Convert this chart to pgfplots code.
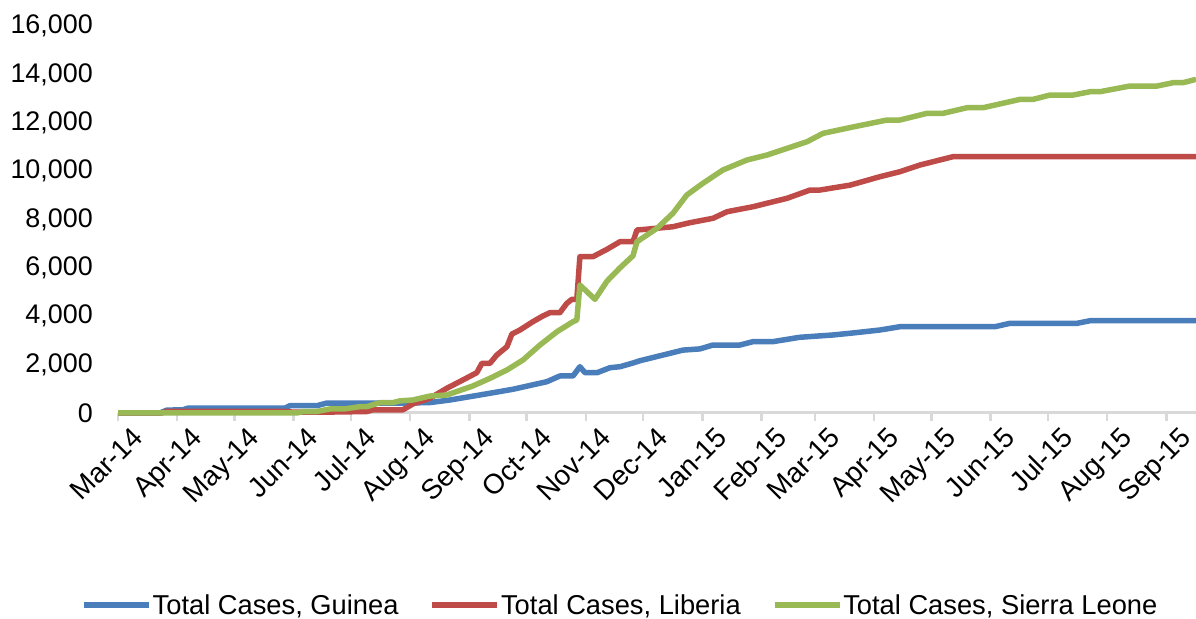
\documentclass[border=0pt]{standalone}
\usepackage{fontspec}
\setmainfont{Liberation Sans}
\usepackage{pgfplots}
\pgfplotsset{compat=1.18}
\definecolor{gblue}{HTML}{4A7EBB}
\definecolor{lred}{HTML}{BE4B48}
\definecolor{sgreen}{HTML}{98B954}
\definecolor{axgray}{HTML}{D9D9D9}
\begin{document}
\begin{tikzpicture}[x=1bp,y=1bp]
\useasboundingbox (0,0) rectangle (1196,619);
\begin{axis}[
  at={(118bp,206bp)}, anchor=south west,
  scale only axis, width=1078bp, height=387bp,
  xmin=0, xmax=564.6, ymin=0, ymax=16000,
  clip=false,
  axis x line*=bottom, axis y line*=left,
  y axis line style={draw=none},
  x axis line style={draw=axgray, line width=3bp},
  xtick={0,31,61,92,122,153,184,214,245,275,306,337,365,396,426,457,487,518,549},
  xticklabels={Mar-14,Apr-14,May-14,Jun-14,Jul-14,Aug-14,Sep-14,Oct-14,Nov-14,Dec-14,Jan-15,Feb-15,Mar-15,Apr-15,May-15,Jun-15,Jul-15,Aug-15,Sep-15},
  ytick={0,2000,4000,6000,8000,10000,12000,14000,16000},
  scaled y ticks=false,
  tick align=outside,
  major tick length=8bp,
  xtick style={draw=axgray, line width=2.5bp},
  ytick style={draw=none},
  /pgf/number format/assume math mode=true,
  yticklabel style={/pgf/number format/1000 sep={,}, font=\fontsize{27}{30}\selectfont, inner sep=0pt, anchor=east, xshift=-17bp},
  xticklabel style={rotate=45, anchor=north east, font=\fontsize{28}{30}\selectfont, inner sep=0pt, xshift=6bp, yshift=-12bp},
  legend style={at={(0.4655,-0.496)}, anchor=center, draw=none, fill=none, legend columns=3,
    font=\fontsize{27.4}{30}\selectfont, inner sep=0pt,
    nodes={inner sep=1bp},
    /tikz/every even column/.append style={column sep=30bp}},
  legend image code/.code={\draw[#1] (0bp,0bp) -- (65bp,0bp);},
  every axis plot/.append style={line width=5.5bp, line join=round},
]
\addplot[gblue] coordinates {
(0,0) (21.9,0) (25.6,120) (33.9,130) (36.6,200) (87.4,200) (90.0,300) (104.1,300) (109.3,410)
(147.6,410) (163.3,430) (173.8,537) (189.5,744) (206.8,980) (224.6,1294) (231.4,1530) (238.3,1530)
(241.9,1914) (244.6,1666) (250.9,1666) (257.7,1873) (262.9,1914) (269.7,2067) (273.4,2162)
(295.9,2600) (304.8,2650) (311.6,2810) (325.7,2810) (332.6,2950) (343.0,2950) (357.1,3130)
(374.4,3225) (383.3,3295) (399.0,3430) (409.5,3568) (459.3,3568) (467.2,3708) (502.3,3708)
(509.1,3816) (564.6,3816)
};
\addlegendentry{Total Cases, Guinea}
\addplot[lred] coordinates {
(0,0) (22.9,0) (25.6,70) (86.3,70) (91.0,40) (112.5,40) (130.3,60) (133.5,130) (149.2,130)
(154.4,372) (163.3,607) (172.2,1021) (180.6,1364) (187.9,1666) (190.6,2054) (194.8,2054)
(198.4,2398) (203.7,2741) (206.3,3266) (210.5,3431) (217.3,3775) (222.5,4010) (226.2,4146)
(231.4,4146) (235.1,4535) (237.7,4700) (240.3,4700) (241.9,6461) (248.7,6461) (256.1,6767)
(262.9,7081) (269.7,7081) (271.8,7565) (277.0,7600) (290.6,7700) (299.5,7867) (311.6,8049)
(319.0,8322) (332.6,8528) (350.4,8876) (362.5,9219) (367.7,9219) (383.4,9420) (399.1,9770)
(409.5,9975) (420.0,10252) (437.3,10597) (564.6,10597)
};
\addlegendentry{Total Cases, Liberia}
\addplot[sgreen] coordinates {
(0,0) (93.7,0) (96.8,55) (104.1,60) (110.9,165) (118.8,170) (126.6,262) (130.3,262) (137.1,426)
(143.9,426) (147.6,500) (154.4,537) (163.3,700) (172.2,744) (185.8,1116) (194.8,1433)
(203.7,1778) (212.1,2191) (221.0,2811) (229.9,3361) (238.3,3775) (240.3,3845) (241.9,5291)
(249.8,4700) (256.1,5450) (262.9,6000) (269.7,6500) (271.8,7081) (282.3,7635) (290.6,8255)
(297.9,9012) (306.3,9495) (316.8,10045) (329.4,10459) (339.9,10665) (350.4,10941) (360.9,11216)
(369.2,11561) (383.4,11800) (402.8,12113) (409.5,12113) (423.7,12389) (432.1,12389)
(444.7,12622) (453.1,12622) (472.5,12967) (479.3,12967) (488.2,13146) (500.3,13146)
(509.1,13283) (514.3,13283) (530.0,13518) (544.2,13518) (552.6,13655) (557.8,13655) (564.6,13795)
};
\addlegendentry{Total Cases, Sierra Leone}
\end{axis}
\end{tikzpicture}
\end{document}
